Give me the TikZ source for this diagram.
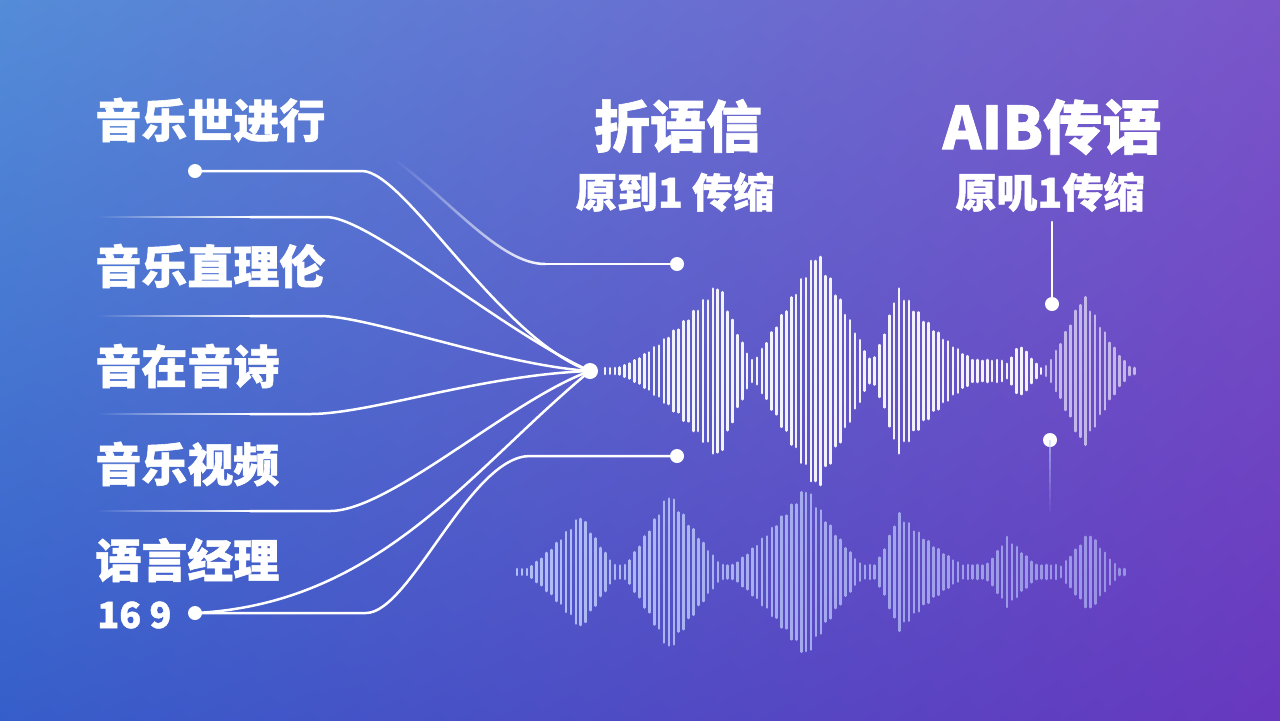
\documentclass[tikz,border=0pt]{standalone}
\usepackage{fontspec}
\newfontfamily\cjk{Noto Sans CJK SC}[BoldFeatures={FakeBold=1.2}]
\usetikzlibrary{fadings,shadings,calc}
\tikzfading[name=fadein, left color=transparent!100, right color=transparent!0]
\definecolor{bgUL}{RGB}{84,140,216}
\definecolor{bgUR}{RGB}{122,86,202}
\definecolor{bgLL}{RGB}{54,94,202}
\definecolor{bgLR}{RGB}{104,56,190}
\definecolor{wavelo}{RGB}{196,210,255}
\begin{document}
\begin{tikzpicture}[x=0.5pt,y=-0.5pt,
  declare function={
    lb(\pu,\pc,\pa,\pl,\pr,\pe)=\pa*(max(0.0001,1-((\pu<\pc)*(\pc-\pu)/\pl+(\pu>=\pc)*(\pu-\pc)/\pr)))^\pe;
  },
  lbl/.style={anchor=west, inner sep=0pt, text=white, font=\cjk\bfseries\fontsize{23}{23}\selectfont},
  ttl/.style={inner sep=0pt, text=white, font=\cjk\bfseries\fontsize{28}{28}\selectfont},
  subttl/.style={inner sep=0pt, text=white, font=\cjk\bfseries\fontsize{20.5}{20.5}\selectfont},
  numtxt/.style={anchor=west, inner sep=0pt, text=white, font=\cjk\bfseries\fontsize{18}{18}\selectfont},
  dot/.style={circle, fill=white, inner sep=0pt, minimum size=7pt},
  hubdot/.style={circle, fill=white, inner sep=0pt, minimum size=8pt},
  conn/.style={draw=white, line width=1.25pt, line cap=round},
  bar/.style={line width=1.3pt, line cap=round}]

% background
\shade[upper left=bgUL, upper right=bgUR, lower left=bgLL, lower right=bgLR] (0,0) rectangle (1280,720);
\useasboundingbox (0,0) rectangle (1280,720);

% labels
\node[lbl] (t1) at (95,120) {音乐世进行};
\node[lbl] (t2) at (95,266) {音乐直理伦};
\node[lbl] (t3) at (95,366) {音在音诗};
\node[lbl] (t4) at (95,464) {音乐视频};
\node[lbl] (t5) at (95,560) {语言经理};
\node[numtxt] (t6) at (97,615) {16 9};

\node[ttl] (h1) at (678,126) {折语信};
\node[ttl, font=\cjk\bfseries\fontsize{29.5}{29.5}\selectfont] (h2) at (1052,127) {AIB传语};
\node[subttl] (s1) at (675,192) {原到1 传缩};
\node[subttl] (s2) at (1050,192) {原叽1传缩};

% dots
\node[dot] (d1) at (195,171) {};
\node[dot] (d6) at (195,613) {};
\node[hubdot] (hub) at (590,371) {};
\node[dot] (dr1) at (677,264) {};
\node[dot] (dr2) at (677,456) {};
\node[dot] (da) at (1052,304) {};
\node[dot] (db) at (1050,440) {};
\coordinate (va) at (1052,222);
\coordinate (vb) at (1050,512);

% free starts of faded lines
\coordinate (a2) at (96,217);  \coordinate (b2) at (250,217);
\coordinate (a3) at (96,316);  \coordinate (b3) at (250,316);
\coordinate (a4) at (96,414);  \coordinate (b4) at (250,414);
\coordinate (a5) at (96,511);  \coordinate (b5) at (250,511);
\coordinate (a8) at (395,160); \coordinate (b8) at (545,264);

\foreach \k in {2,3,4,5}{
  \fill[white, path fading=fadein] ($(a\k)+(0,-1.25)$) rectangle ($(b\k)+(0,1.25)$);
}

% connectors
\draw[conn] (d1.center) -- (362,171) .. controls (405,171) and (500,340) .. (hub.center);
\draw[conn] (b2) -- (326,217) .. controls (370,217) and (500,330) .. (hub.center);
\draw[conn] (b3) -- (320,316) .. controls (370,316) and (500,365) .. (hub.center);
\draw[conn] (b4) -- (310,414) .. controls (370,414) and (480,375) .. (hub.center);
\draw[conn] (b5) -- (330,511) .. controls (390,511) and (510,400) .. (hub.center);
\draw[conn] (d6.center) .. controls (380,604) and (470,470) .. (hub.center);
\draw[conn] (d6.center) -- (366,613) .. controls (410,613) and (470,456) .. (530,456) -- (dr2.center);
\draw[conn, path fading=fadein] (a8) .. controls (450,200) and (500,264) .. (b8);
\draw[conn] (b8) -- (dr1.center);
\draw[conn] (va) -- (da.center);
\foreach \k in {0,...,9}{
  \draw[wavelo, line width=1.2pt, opacity={0.6-0.06*\k}]
    ($(db)!{\k/10}!(vb)$) -- ($(db)!{(\k+1)/10}!(vb)$);
}

% top waveform
\foreach \i in {0,...,108}{
  \pgfmathsetmacro\xx{605+4.9*\i}
  \pgfmathsetmacro\fl{3+8*(\xx>735)*(\xx<1005)}
  \pgfmathsetmacro\hh{max(\fl, lb(\xx,719,90,115,45,1.6), lb(\xx,817,122,70,60,1.1), lb(\xx,897,85,35,110,1.7), lb(\xx,1020,27,18,22,1), lb(\xx,1083,78,42,52,1.3))*(1-0.08*mod(\i,2))}
  \pgfmathsetmacro\op{ifthenelse(\xx>1045,0.6,0.93)}
  \draw[bar, white, opacity=\op] (\xx,371-\hh) -- (\xx,371+\hh);
}

% bottom waveform
\foreach \i in {0,...,124}{
  \pgfmathsetmacro\xx{517+4.9*\i}
  \pgfmathsetmacro\fl{3+4*(\xx>560)*(\xx<1060)}
  \pgfmathsetmacro\hh{max(\fl, lb(\xx,581,58,60,42,1.3), lb(\xx,669,80,50,60,1.2), lb(\xx,806,86,85,65,1.3), lb(\xx,898,60,30,85,1.5), lb(\xx,1007,35,28,40,1.2), lb(\xx,1089,40,35,35,1.2))*(1-0.08*mod(\i,2))}
  \pgfmathsetmacro\op{0.85-0.3*(\xx-517)/607}
  \draw[bar, wavelo, opacity=\op] (\xx,572-\hh) -- (\xx,572+\hh);
}
\end{tikzpicture}
\end{document}
